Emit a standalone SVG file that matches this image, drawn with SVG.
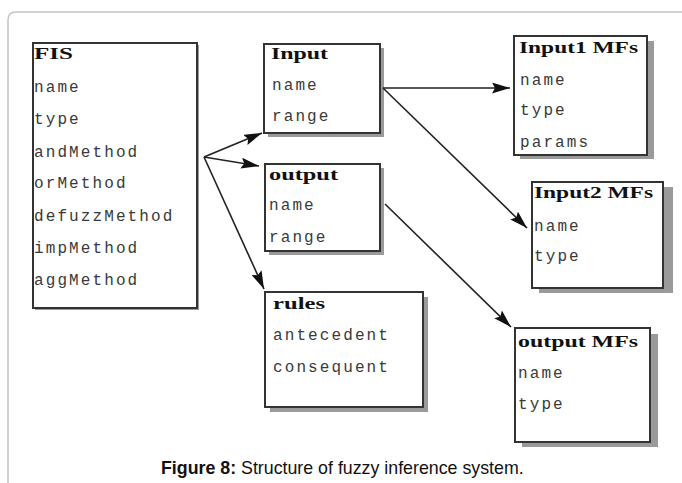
<svg xmlns="http://www.w3.org/2000/svg" width="682" height="483" viewBox="0 0 682 483">
<defs>
<marker id="ah" viewBox="0 0 18 11" refX="18" refY="5.5" markerWidth="18" markerHeight="11" markerUnits="userSpaceOnUse" orient="auto">
<path d="M0,0 L18,5.5 L0,11 L3,5.5 Z" fill="#111"/>
</marker>
</defs>
<style>
.box{fill:#fff;stroke:#333;stroke-width:2}
.sh{fill:#9a9a9a}
.hd{font-family:"Liberation Serif","DejaVu Serif",serif;font-weight:bold;font-size:17px;fill:#111}
.fd{font-family:"Liberation Mono","DejaVu Sans Mono",monospace;font-size:16px;letter-spacing:2.1px;fill:#3a3a3a}
.cn{stroke:#222;stroke-width:1.6;fill:none;marker-end:url(#ah)}
.cap{font-family:"Liberation Sans",Arial,sans-serif;font-size:17.8px;fill:#111}
</style>
<rect width="682" height="483" fill="#fff"/>
<path d="M8 483 V20 Q8 12 16 12 H682" fill="none" stroke="#c4c4c4" stroke-width="1.5"/>

<g id="fis">
<rect class="sh" x="35" y="45" width="164" height="265"/>
<rect class="box" x="33" y="43" width="164" height="265"/>
<text class="hd" x="34" y="59" textLength="39" lengthAdjust="spacingAndGlyphs">FIS</text>
<text class="fd" x="34" y="92">name</text>
<text class="fd" x="34" y="124">type</text>
<text class="fd" x="34" y="157">andMethod</text>
<text class="fd" x="34" y="188">orMethod</text>
<text class="fd" x="34" y="221">defuzzMethod</text>
<text class="fd" x="34" y="253">impMethod</text>
<text class="fd" x="34" y="285">aggMethod</text>
</g>

<g id="input">
<rect class="sh" x="268" y="48" width="116" height="89"/>
<rect class="box" x="264" y="44" width="116" height="89"/>
<text class="hd" x="271" y="59" textLength="57" lengthAdjust="spacingAndGlyphs">Input</text>
<text class="fd" x="272" y="90">name</text>
<text class="fd" x="272" y="121">range</text>
</g>

<g id="output">
<rect class="sh" x="269" y="168" width="115" height="87"/>
<rect class="box" x="265" y="164" width="115" height="87"/>
<text class="hd" x="269" y="180" textLength="69" lengthAdjust="spacingAndGlyphs">output</text>
<text class="fd" x="269" y="210">name</text>
<text class="fd" x="269" y="242">range</text>
</g>

<g id="rules">
<rect class="sh" x="270" y="297" width="158" height="115"/>
<rect class="box" x="265" y="292" width="158" height="115"/>
<text class="hd" x="273" y="309" textLength="52" lengthAdjust="spacingAndGlyphs">rules</text>
<text class="fd" x="273" y="340">antecedent</text>
<text class="fd" x="273" y="372">consequent</text>
</g>

<g id="input1mfs">
<rect class="sh" x="520" y="41" width="134" height="118"/>
<rect class="box" x="514" y="36" width="133" height="119"/>
<text class="hd" x="519" y="53" textLength="119" lengthAdjust="spacingAndGlyphs">Input1 MFs</text>
<text class="fd" x="520" y="85">name</text>
<text class="fd" x="520" y="115">type</text>
<text class="fd" x="520" y="147">params</text>
</g>

<g id="input2mfs">
<rect class="sh" x="539" y="187" width="134" height="106"/>
<rect class="box" x="532" y="182" width="131" height="106"/>
<text class="hd" x="534" y="198" textLength="119" lengthAdjust="spacingAndGlyphs">Input2 MFs</text>
<text class="fd" x="534" y="231">name</text>
<text class="fd" x="534" y="261">type</text>
</g>

<g id="outputmfs">
<rect class="sh" x="522" y="334" width="136" height="113"/>
<rect class="box" x="515" y="328" width="135" height="114"/>
<text class="hd" x="518" y="347" textLength="120" lengthAdjust="spacingAndGlyphs">output MFs</text>
<text class="fd" x="518" y="378">name</text>
<text class="fd" x="518" y="409">type</text>
</g>

<g id="connectors">
<line class="cn" x1="204" y1="157" x2="262" y2="133"/>
<line class="cn" x1="204" y1="157" x2="259" y2="166"/>
<line class="cn" x1="204" y1="157" x2="264" y2="289"/>
<line class="cn" x1="383" y1="88" x2="510" y2="88"/>
<line class="cn" x1="383" y1="88" x2="527" y2="228"/>
<line class="cn" x1="385" y1="204" x2="511" y2="327"/>
</g>

<text class="cap" x="161" y="474"><tspan font-weight="bold">Figure 8:</tspan> Structure of fuzzy inference system.</text>
</svg>
